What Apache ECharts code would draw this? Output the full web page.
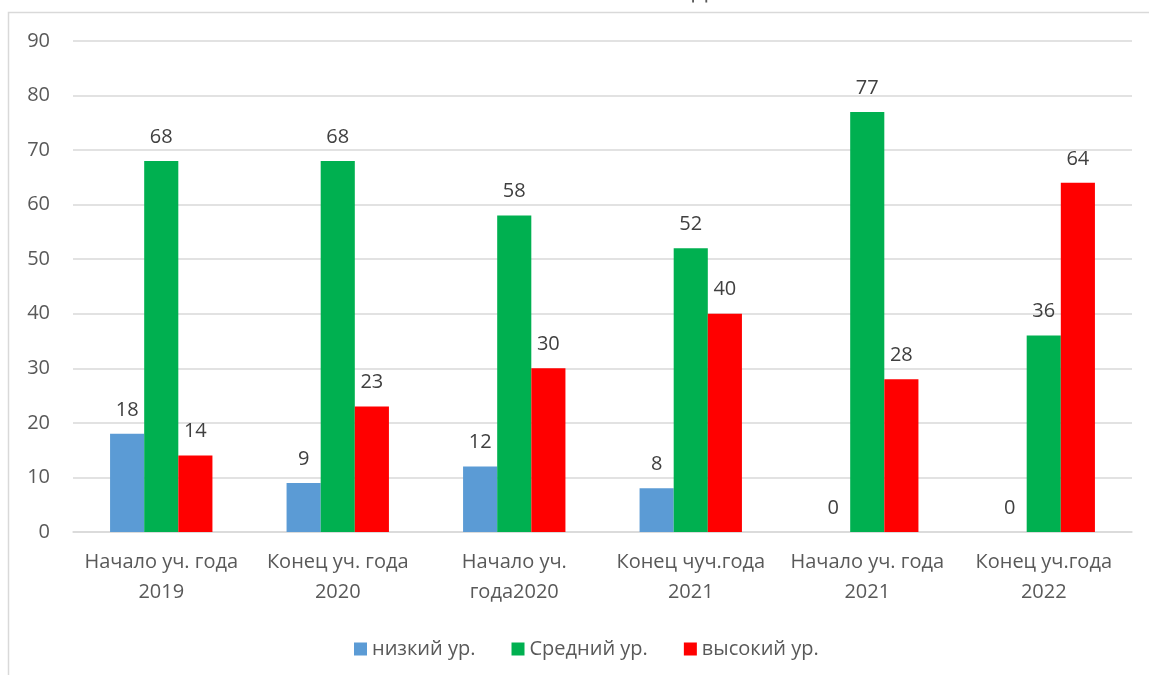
<!DOCTYPE html>
<html>
<head>
<meta charset="utf-8">
<script src="https://cdn.jsdelivr.net/npm/echarts@6/dist/echarts.min.js"></script>
<style>
html,body{margin:0;padding:0;background:#fff;}
#chart{width:1149px;height:675px;}
</style>
</head>
<body>
<div id="chart"></div>
<script>
var categories = ['Начало уч. года\n2019', 'Конец уч. года\n2020', 'Начало уч.\nгода2020', 'Конец чуч.года\n2021', 'Начало уч. года\n2021', 'Конец уч.года\n2022'];
var lowLevel = [18, 9, 12, 8, 0, 0];
var midLevel = [68, 68, 58, 52, 77, 36];
var highLevel = [14, 23, 30, 40, 28, 64];
var yTicks = [0, 10, 20, 30, 40, 50, 60, 70, 80, 90];

var FONT = '"Open Sans", "Noto Sans", sans-serif';
var chart = echarts.init(document.getElementById('chart'));
var labelCfg = {show: true, position: 'top', distance: 14, color: '#404040', fontSize: 20, fontFamily: FONT};
chart.setOption({
  animation: false,
  graphic: [
    {type: 'rect', shape: {x: 8.5, y: 12.5, width: 1200, height: 700}, style: {fill: 'none', stroke: '#d9d9d9', lineWidth: 1.5}, silent: true},
    {type: 'text', left: 692, top: -20, style: {text: 'Д', fontSize: 23, fill: '#595959', fontFamily: FONT}}
  ],
  legend: {
    bottom: 11, left: 349,
    itemWidth: 13, itemHeight: 13, itemGap: 36,
    icon: 'rect',
    textStyle: {color: '#595959', fontSize: 20, fontFamily: FONT},
    data: ['низкий ур.', 'Средний ур.', 'высокий ур.']
  },
  grid: {left: 73, right: 17, top: 41, bottom: 143, containLabel: false},
  xAxis: {
    type: 'category', data: categories,
    axisLine: {lineStyle: {color: '#d9d9d9', width: 1.5}},
    axisTick: {show: false},
    axisLabel: {color: '#595959', fontSize: 20, fontFamily: FONT, lineHeight: 30, margin: 15, interval: 0}
  },
  yAxis: {
    type: 'value', min: 0, max: 90, interval: 10,
    axisLine: {show: false}, axisTick: {show: false},
    axisLabel: {color: '#595959', fontSize: 20, fontFamily: FONT, margin: 23,
      formatter: function (v) { return yTicks.indexOf(v) >= 0 ? String(v) : ''; }},
    splitLine: {lineStyle: {color: '#d9d9d9', width: 1.5}}
  },
  series: [
    {name: 'низкий ур.', type: 'bar', data: lowLevel, barGap: '0%', barCategoryGap: '42%', itemStyle: {color: '#5b9bd5'}, label: labelCfg},
    {name: 'Средний ур.', type: 'bar', data: midLevel, barGap: '0%', barCategoryGap: '42%', itemStyle: {color: '#00b050'}, label: labelCfg},
    {name: 'высокий ур.', type: 'bar', data: highLevel, barGap: '0%', barCategoryGap: '42%', itemStyle: {color: '#ff0000'}, label: labelCfg}
  ]
});
</script>
</body>
</html>
